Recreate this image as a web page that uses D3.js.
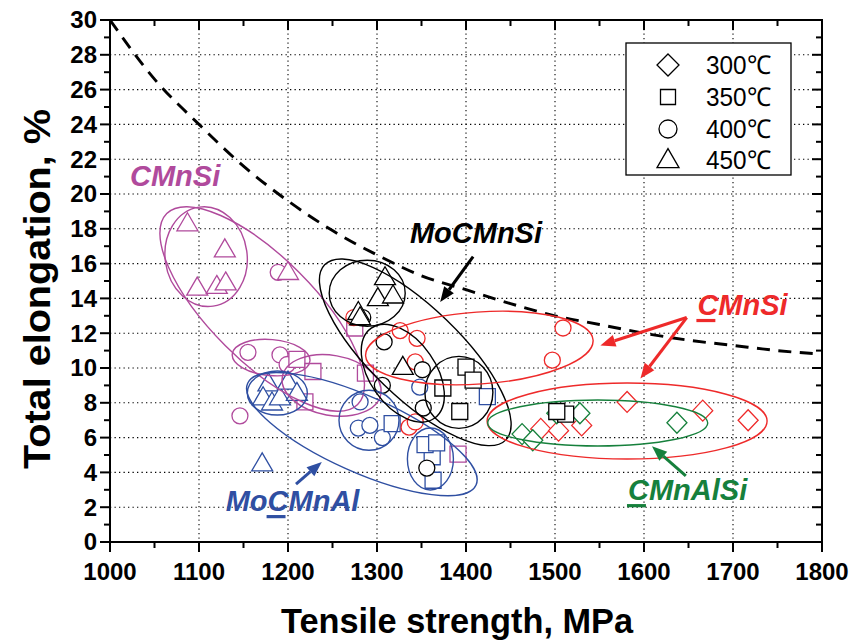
<!DOCTYPE html>
<html><head><meta charset="utf-8">
<script src="https://cdn.jsdelivr.net/npm/d3@7"></script>
<style>body{margin:0;background:#fff}svg{display:block}</style>
</head><body>
<svg id="c" width="852" height="644"></svg>
<script>
// ---------------- DATA ----------------
const xTickValues = [1000,1100,1200,1300,1400,1500,1600,1700,1800];
const xMinorValues = [1050,1150,1250,1350,1450,1550,1650,1750];
const yTickValues = [0,2,4,6,8,10,12,14,16,18,20,22,24,26,28,30];
const yMinorValues = [1,3,5,7,9,11,13,15,17,19,21,23,25,27,29];
const legendLabels = ["300℃","350℃","400℃","450℃"];
const legendShapes = ["diamond","square","circle","triangle"];

// limit curve (dashed)
const limitTS = [1000,1050,1100,1150,1200,1250,1300,1350,1400,1450,1500,1550,1600,1650,1700,1750,1800];
const limitEl = [30,26.6,24.0,21.6,19.6,17.9,16.5,15.3,14.5,13.7,13.0,12.5,12.0,11.6,11.3,11.0,10.8];

// CMnSi (magenta)
const cmnsi400 = [[1189,15.5],[1155,10.9],[1191,10.75],[1199,10.2],[1146,7.25]];
const cmnsi350 = [[1210,10.5],[1228,9.8],[1219,8.05],[1287,9.7],[1275,12.3],[1391,5.05]];
const cmnsi450 = [[1087,18.3],[1129,16.8],[1098,14.6],[1120,14.7],[1130,14.9],[1200,15.5]];
// MoCMnAl (blue)
const mocmnal400 = [[1281,8.05],[1279,6.55],[1292,6.7],[1306,6.0],[1348,8.9]];
const mocmnal350 = [[1362,4.9],[1317,6.8],[1354,5.6],[1367,5.7],[1363,3.55],[1424,8.35]];
const mocmnal450 = [[1178,9.1],[1172,8.3],[1182,8.0],[1191,8.3],[1200,9.2],[1210,8.55],[1171,4.5]];
// underlined-C CMnSi (red)
const ucmnsi300 = [[1581,8.05],[1666,7.55],[1717,7.0],[1484,6.5],[1504,6.4],[1530,6.7]];
const ucmnsi400 = [[1274,12.9],[1326,12.15],[1345,11.7],[1343,10.35],[1509,12.3],[1497,10.45],[1336,6.6],[1343,6.9]];
// CMnAlSi (green)
const cmnalsi300 = [[1463,6.2],[1475,5.85],[1502,7.4],[1528,7.4],[1637,6.85]];
// MoCMnSi (black)
const mocmnsi350 = [[1400,10.05],[1408,9.3],[1374,8.85],[1393,7.5],[1512,7.35],[1502,7.5]];
const mocmnsi400 = [[1284,12.9],[1308,11.5],[1351,9.9],[1306,9.0],[1352,7.7],[1356,4.25]];
const mocmnsi450 = [[1309,15.2],[1301,14.0],[1318,14.15],[1279,13.2],[1281,12.9],[1329,10.05]];

// ---------------- STYLE / LAYOUT ----------------
const MAG="#b04a9c", BLU="#2f4fa2", RED="#ee2a2a", GRN="#16803c", BLK="#000";
const FONT = "'Liberation Sans', Arial, Helvetica, sans-serif";

const series = [
  {d:cmnsi400, s:"circle", c:MAG},{d:cmnsi350, s:"square", c:MAG},{d:cmnsi450, s:"triangle", c:MAG},
  {d:mocmnal400, s:"circle", c:BLU},{d:mocmnal350, s:"square", c:BLU},{d:mocmnal450, s:"triangle", c:BLU},
  {d:ucmnsi300, s:"diamond", c:RED},{d:ucmnsi400, s:"circle", c:RED},
  {d:cmnalsi300, s:"diamond", c:GRN},
  {d:mocmnsi350, s:"square", c:BLK},{d:mocmnsi400, s:"circle", c:BLK},{d:mocmnsi450, s:"triangle", c:BLK}
];

// annotation ellipses: centre in data units, semi-axes in px, angle in deg
const ellipses = [
  {c:MAG, cx:1108, cy:16.4, rx:41, ry:50, a:-8},
  {c:MAG, cx:1171, cy:13.39, rx:135, ry:52, a:45},
  {c:MAG, cx:1181, cy:10.6, rx:39, ry:18, a:5},
  {c:MAG, cx:1249, cy:9.0, rx:50, ry:30, a:10},
  {c:BLU, cx:1188, cy:8.56, rx:30, ry:22, a:0},
  {c:BLU, cx:1283, cy:6.2, rx:125, ry:38, a:24},
  {c:BLU, cx:1291, cy:7.0, rx:30, ry:30, a:0},
  {c:BLU, cx:1360, cy:4.77, rx:23, ry:31, a:0},
  {c:BLK, cx:1289, cy:14.3, rx:38, ry:33, a:0},
  {c:BLK, cx:1343, cy:10.9, rx:126, ry:45, a:44},
  {c:BLK, cx:1329, cy:9.7, rx:55, ry:33, a:55},
  {c:BLK, cx:1392, cy:8.6, rx:34, ry:36, a:0},
  {c:RED, cx:1415, cy:11.15, rx:114, ry:36, a:-4},
  {c:RED, cx:1581, cy:6.95, rx:140, ry:38, a:0},
  {c:GRN, cx:1548, cy:6.84, rx:110, ry:23, a:0}
];
const arrows = [
  {c:BLK, from:[1408,16.4], to:[1371,13.8]},
  {c:RED, from:[1648,12.9], to:[1551,11.3]},
  {c:RED, from:[1648,12.9], to:[1596,9.4]},
  {c:BLU, from:[1209,3.33], to:[1238,4.6]},
  {c:GRN, from:[1647,3.8], to:[1609,5.5]}
];
const labels = [
  {c:MAG, pre:"", u:"", post:"CMnSi", at:[1022.5,20.46]},
  {c:BLK, pre:"", u:"", post:"MoCMnSi", at:[1337,17.2]},
  {c:RED, pre:"", u:"C", post:"MnSi", at:[1660,13.05]},
  {c:BLU, pre:"Mo", u:"C", post:"MnAl", at:[1130,1.78]},
  {c:GRN, pre:"", u:"C", post:"MnAlSi", at:[1582,2.41]}
];

// ---------------- DRAW ----------------
const svg = d3.select("#c");
const L=110, R=822, T=20, B=542;
const x = d3.scaleLinear().domain([1000,1800]).range([L,R]);
const y = d3.scaleLinear().domain([0,30]).range([B,T]);

svg.append("defs").append("clipPath").attr("id","clip")
  .append("rect").attr("x",L).attr("y",T).attr("width",R-L).attr("height",B-T);

// grid
const grid = svg.append("g").attr("stroke","#000").attr("stroke-width",1.1).attr("stroke-dasharray","1.3,3.2");
grid.selectAll(".gx").data(xTickValues.slice(1,-1)).join("line")
  .attr("x1",d=>x(d)).attr("x2",d=>x(d)).attr("y1",T).attr("y2",B);
grid.selectAll(".gy").data(yTickValues.slice(1,-1)).join("line")
  .attr("y1",d=>y(d)).attr("y2",d=>y(d)).attr("x1",L).attr("x2",R);

// symbols
function sym(shape, s){
  if(shape==="circle"){const r=s.r;return `M${-r},0A${r},${r} 0 1,0 ${r},0A${r},${r} 0 1,0 ${-r},0Z`;}
  if(shape==="square"){const h=s.h;return `M${-h},${-h}H${h}V${h}H${-h}Z`;}
  if(shape==="diamond"){const w=s.dw,h=s.dh;return `M0,${-h}L${w},0L0,${h}L${-w},0Z`;}
  if(shape==="triangle"){const w=s.tw,h=s.th;return `M0,${-h*0.6}L${w},${h*0.4}L${-w},${h*0.4}Z`;}
}
const msize = {r:8, h:8, dw:10, dh:10.5, tw:10.5, th:18};

const marks = svg.append("g").attr("clip-path","url(#clip)");
series.forEach(sr=>{
  marks.append("g").selectAll("path").data(sr.d).join("path")
    .attr("d",sym(sr.s,msize))
    .attr("transform",d=>`translate(${x(d[0])},${y(d[1])})`)
    .attr("fill","#fff").attr("stroke",sr.c).attr("stroke-width",1.3);
});

// dashed limit curve
const line = d3.line().x(d=>x(d[0])).y(d=>y(d[1])).curve(d3.curveMonotoneX);
svg.append("path").attr("clip-path","url(#clip)")
  .datum(limitTS.map((t,i)=>[t,limitEl[i]]))
  .attr("d",line).attr("fill","none").attr("stroke","#000")
  .attr("stroke-width",2.9).attr("stroke-dasharray","13,8.5");

// ellipses
svg.append("g").selectAll("ellipse").data(ellipses).join("ellipse")
  .attr("rx",d=>d.rx).attr("ry",d=>d.ry)
  .attr("transform",d=>`translate(${x(d.cx)},${y(d.cy)}) rotate(${d.a})`)
  .attr("fill","none").attr("stroke",d=>d.c).attr("stroke-width",1.4);

// arrows
const ag = svg.append("g");
arrows.forEach(a=>{
  const x1=x(a.from[0]),y1=y(a.from[1]),x2=x(a.to[0]),y2=y(a.to[1]);
  const ang=Math.atan2(y2-y1,x2-x1), hl=15, hw=6;
  const bx=x2-hl*Math.cos(ang), by=y2-hl*Math.sin(ang);
  ag.append("line").attr("x1",x1).attr("y1",y1).attr("x2",bx).attr("y2",by)
    .attr("stroke",a.c).attr("stroke-width",3);
  ag.append("path").attr("d",`M${x2},${y2}L${bx-hw*Math.sin(ang)},${by+hw*Math.cos(ang)}L${bx+hw*Math.sin(ang)},${by-hw*Math.cos(ang)}Z`)
    .attr("fill",a.c);
});

// labels
labels.forEach(lb=>{
  const t = svg.append("text").attr("x",x(lb.at[0])).attr("y",y(lb.at[1]))
    .attr("fill",lb.c).attr("font-family",FONT).attr("font-size",29)
    .attr("font-weight","bold").attr("font-style","italic");
  t.append("tspan").text(lb.pre);
  t.append("tspan").text(lb.u);
  t.append("tspan").text(lb.post);
  if(lb.u){
    const node=t.node();
    const s0=node.getSubStringLength(0,lb.pre.length||0);
    const s1=node.getSubStringLength(lb.pre.length,lb.u.length);
    svg.append("rect").attr("x",x(lb.at[0])+s0-1).attr("y",y(lb.at[1])+4)
      .attr("width",s1-2).attr("height",3.2).attr("fill",lb.c);
  }
});

// axes frame
const ax = svg.append("g").attr("stroke","#000").attr("stroke-width",2).attr("fill","none");
ax.append("rect").attr("x",L).attr("y",T).attr("width",R-L).attr("height",B-T);
xTickValues.forEach(v=>{
  ax.append("line").attr("x1",x(v)).attr("x2",x(v)).attr("y1",B).attr("y2",B+10);
  ax.append("line").attr("x1",x(v)).attr("x2",x(v)).attr("y1",T).attr("y2",T+10);
});
xMinorValues.forEach(v=>{
  ax.append("line").attr("x1",x(v)).attr("x2",x(v)).attr("y1",B).attr("y2",B+6);
  ax.append("line").attr("x1",x(v)).attr("x2",x(v)).attr("y1",T).attr("y2",T+6);
});
yTickValues.forEach(v=>{
  ax.append("line").attr("y1",y(v)).attr("y2",y(v)).attr("x1",L-10).attr("x2",L);
  ax.append("line").attr("y1",y(v)).attr("y2",y(v)).attr("x1",R-10).attr("x2",R);
});
yMinorValues.forEach(v=>{
  ax.append("line").attr("y1",y(v)).attr("y2",y(v)).attr("x1",L-6).attr("x2",L);
  ax.append("line").attr("y1",y(v)).attr("y2",y(v)).attr("x1",R-6).attr("x2",R);
});

// tick labels
svg.append("g").selectAll("text").data(xTickValues).join("text")
  .attr("x",d=>x(d)).attr("y",580).attr("text-anchor","middle")
  .attr("font-family",FONT).attr("font-weight","bold").attr("font-size",24)
  .text(d=>String(d));
svg.append("g").selectAll("text").data(yTickValues).join("text")
  .attr("x",97).attr("y",d=>y(d)).attr("dy","0.35em").attr("text-anchor","end")
  .attr("font-family",FONT).attr("font-weight","bold").attr("font-size",24)
  .text(d=>String(d));

// axis titles
svg.append("text").attr("x",457).attr("y",633).attr("text-anchor","middle")
  .attr("font-family",FONT).attr("font-weight","bold").attr("font-size",35)
  .attr("textLength",352).attr("lengthAdjust","spacingAndGlyphs")
  .text("Tensile strength, MPa");
svg.append("text").attr("transform","translate(50,289) rotate(-90)").attr("text-anchor","middle")
  .attr("font-family",FONT).attr("font-weight","bold").attr("font-size",37)
  .attr("textLength",360).attr("lengthAdjust","spacingAndGlyphs")
  .text("Total elongation, %");

// legend
const lg = svg.append("g");
lg.append("rect").attr("x",626).attr("y",43).attr("width",165).attr("height",132)
  .attr("fill","#fff").attr("stroke","#000").attr("stroke-width",1.3);
const lsize = {r:9, h:7.5, dw:11, dh:11, tw:11, th:19};
const rowY = [65,97,129,160];
legendShapes.forEach((s,i)=>{
  lg.append("path").attr("d",sym(s,lsize)).attr("transform",`translate(668,${rowY[i]})`)
    .attr("fill","#fff").attr("stroke","#000").attr("stroke-width",1.3);
  lg.append("text").attr("x",706).attr("y",rowY[i]+9).attr("font-family",FONT)
    .attr("font-size",26).attr("textLength",65).attr("lengthAdjust","spacingAndGlyphs")
    .text(legendLabels[i]);
});
</script>
</body></html>
